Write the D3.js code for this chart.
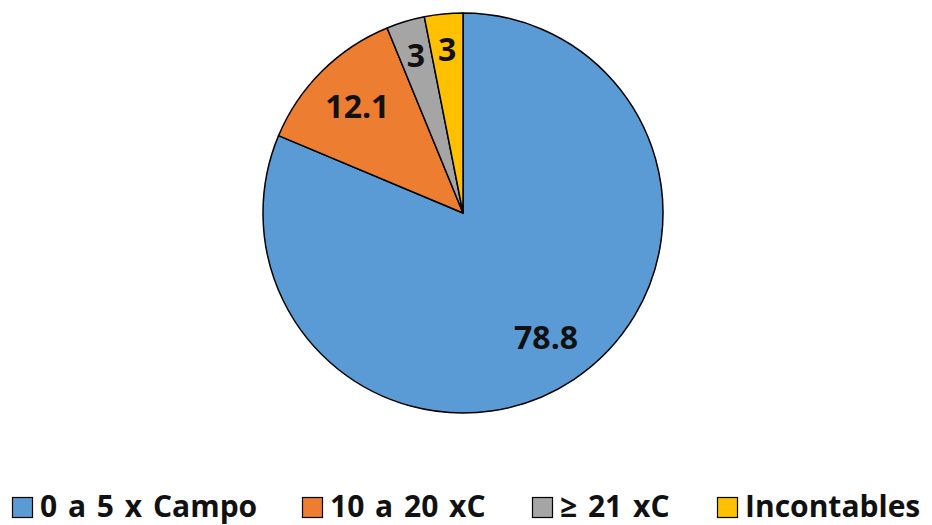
<!DOCTYPE html>
<html>
<head>
<meta charset="utf-8">
<script src="https://cdn.jsdelivr.net/npm/d3@7"></script>
<style>
  html, body { margin: 0; padding: 0; background: #fff; }
  svg text { font-family: "Open Sans", Lato, sans-serif; font-weight: bold; fill: #111; }
</style>
</head>
<body>
<svg id="chart" width="932" height="525"></svg>
<script>
// Categories and values (percent)
const categories = ["0 a 5 x Campo", "10 a 20 xC", "≥ 21 xC", "Incontables"];
const values = [78.8, 12.1, 3, 3];
const valueLabels = ["78.8", "12.1", "3", "3"];
const colors = ["#5B9BD5", "#ED7D31", "#A5A5A5", "#FFC000"];

const svg = d3.select("#chart");
const cx = 463, cy = 213, radius = 200;

const data = categories.map((c, i) => ({ category: c, value: values[i], label: valueLabels[i], color: colors[i] }));

const pie = d3.pie().value(d => d.value).sort(null);
const arcs = pie(data);

const arc = d3.arc().innerRadius(0).outerRadius(radius);
const labelArcBig = d3.arc().innerRadius(radius * 0.75).outerRadius(radius * 0.75);
const labelArcSmall = d3.arc().innerRadius(radius * 0.82).outerRadius(radius * 0.82);

const g = svg.append("g").attr("transform", `translate(${cx},${cy})`);

g.selectAll("path.slice")
  .data(arcs)
  .join("path")
  .attr("class", "slice")
  .attr("d", arc)
  .attr("fill", d => d.data.color)
  .attr("stroke", "#000")
  .attr("stroke-width", 1.5)
  .attr("stroke-linejoin", "round");

g.selectAll("text.val")
  .data(arcs)
  .join("text")
  .attr("class", "val")
  .attr("transform", d => {
    const small = (d.endAngle - d.startAngle) < 0.35;
    const c = (small ? labelArcSmall : labelArcBig).centroid(d);
    return `translate(${c[0]},${c[1]})`;
  })
  .attr("text-anchor", "middle")
  .attr("dy", "0.36em")
  .style("font-size", "32px")
  .text(d => d.data.label);

// Legend along the bottom
const legendX = [12, 302, 532, 717];
const legend = svg.append("g");
const items = legend.selectAll("g.item")
  .data(data)
  .join("g")
  .attr("class", "item")
  .attr("transform", (d, i) => `translate(${legendX[i]},497)`);

items.append("rect")
  .attr("x", 0.5)
  .attr("y", 0.5)
  .attr("width", 20)
  .attr("height", 20)
  .attr("fill", d => d.color)
  .attr("stroke", "#000")
  .attr("stroke-width", 1.2);

items.append("text")
  .attr("x", 28)
  .attr("y", 20)
  .style("font-size", "30px")
  .style("word-spacing", "3px")
  .text(d => d.category);
</script>
</body>
</html>
